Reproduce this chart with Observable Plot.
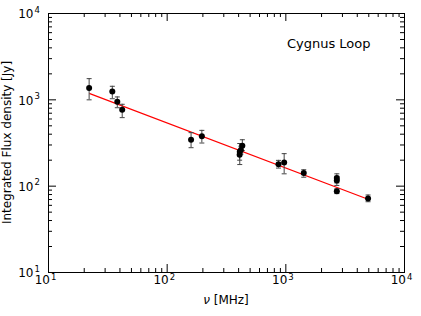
<!DOCTYPE html>
<html>
<head>
<meta charset="utf-8">
<script src="https://cdn.jsdelivr.net/npm/d3@7"></script>
<script src="https://cdn.jsdelivr.net/npm/@observablehq/plot@0.6"></script>
<style>
  html, body { margin: 0; padding: 0; background: #fff; }
  svg { display: block; }
</style>
</head>
<body>
<div id="chart"></div>
<script>
// Measurements: frequency (MHz), flux density (Jy), error low/high
const nu   = [22, 34.5, 38, 41.8, 159, 196, 408, 409, 418, 430, 867, 968, 1416, 2690, 2690, 2690, 4930];
const flux = [1370, 1245, 952, 769, 345, 378, 231, 251, 262, 294, 180, 188, 142, 124, 116, 87.5, 72];
const errLo = [1000, 1030, 810, 622, 279, 316, 200, 178, 235, 258, 162, 139, 127, 109, 102, 82, 66];
const errHi = [1760, 1435, 1080, 888, 417, 443, 262, 312, 290, 345, 199, 238, 155, 139, 130, 93, 79];

// Power-law fit line
const fitNu = [22.3, 4930];
const fitFlux = [1180, 70.6];

// Ticks
const majorTicks = [10, 100, 1000, 10000];
const majorExp = ["1", "2", "3", "4"];
const minorTicks = [];
[10, 100, 1000].forEach(b => { for (let m = 2; m <= 9; m++) minorTicks.push(b * m); });

const data = nu.map((v, i) => ({nu: v, flux: flux[i], lo: errLo[i], hi: errHi[i]}));
const fit = fitNu.map((v, i) => ({nu: v, flux: fitFlux[i]}));
const majors = majorTicks.map((v, i) => ({v, e: majorExp[i]}));

const W = 421, H = 316, mL = 48, mR = 17, mT = 13, mB = 44;
const pw = W - mL - mR, ph = H - mT - mB;
const majLen = 8, minLen = 4;
const font = "DejaVu Sans, sans-serif";

const capSymbol = {
  draw(context, size) {
    const w = Math.sqrt(size / Math.PI);
    context.moveTo(-w, 0);
    context.lineTo(w, 0);
  }
};

const chart = Plot.plot({
  width: W, height: H,
  marginLeft: mL, marginRight: mR, marginTop: mT, marginBottom: mB,
  style: {fontFamily: font, background: "#fff"},
  x: {type: "log", domain: [10, 10000], axis: null},
  y: {type: "log", domain: [10, 10000], axis: null},
  marks: [
    // inward ticks, all four sides
    Plot.ruleX(majorTicks, {x: d => d, insetTop: ph - majLen, stroke: "#000"}),
    Plot.ruleX(majorTicks, {x: d => d, insetBottom: ph - majLen, stroke: "#000"}),
    Plot.ruleX(minorTicks, {x: d => d, insetTop: ph - minLen, stroke: "#000"}),
    Plot.ruleX(minorTicks, {x: d => d, insetBottom: ph - minLen, stroke: "#000"}),
    Plot.ruleY(majorTicks, {y: d => d, insetRight: pw - majLen, stroke: "#000"}),
    Plot.ruleY(majorTicks, {y: d => d, insetLeft: pw - majLen, stroke: "#000"}),
    Plot.ruleY(minorTicks, {y: d => d, insetRight: pw - minLen, stroke: "#000"}),
    Plot.ruleY(minorTicks, {y: d => d, insetLeft: pw - minLen, stroke: "#000"}),
    // x tick labels
    Plot.text(majors, {x: "v", frameAnchor: "bottom", text: () => "10", textAnchor: "end", dx: 1.5, dy: 11.7, fontSize: 12, fill: "#000"}),
    Plot.text(majors, {x: "v", frameAnchor: "bottom", text: "e", textAnchor: "start", dx: 2.5, dy: 7.3, fontSize: 8.5, fill: "#000"}),
    // y tick labels
    Plot.text(majors, {y: "v", frameAnchor: "left", text: () => "10", textAnchor: "end", dx: -15, dy: 1, fontSize: 12, fill: "#000"}),
    Plot.text(majors, {y: "v", frameAnchor: "left", text: "e", textAnchor: "start", dx: -14, dy: -3.7, fontSize: 8.5, fill: "#000"}),
    // fit line
    Plot.line(fit, {x: "nu", y: "flux", stroke: "#ff0000", strokeWidth: 1.2}),
    // error bars
    Plot.ruleX(data, {x: "nu", y1: "lo", y2: "hi", stroke: "#444", strokeWidth: 1}),
    Plot.dot(data, {x: "nu", y: "lo", symbol: capSymbol, r: 2.5, stroke: "#444", fill: "none", strokeWidth: 1}),
    Plot.dot(data, {x: "nu", y: "hi", symbol: capSymbol, r: 2.5, stroke: "#444", fill: "none", strokeWidth: 1}),
    // points
    Plot.dot(data, {x: "nu", y: "flux", r: 3, fill: "#000", stroke: "none"}),
    // label
    Plot.text(["Cygnus Loop"], {frameAnchor: "top-right", text: d => d, textAnchor: "end", dx: -34, dy: 24.8, fontSize: 13, fill: "#000"}),
    Plot.frame({stroke: "#000"})
  ]
});

const svg = d3.select(chart);
// axis titles
svg.append("text")
  .attr("transform", `translate(11,${mT + ph / 2}) rotate(-90)`)
  .attr("text-anchor", "middle")
  .attr("font-family", font)
  .attr("font-size", 12)
  .attr("fill", "#000")
  .text("Integrated Flux density [Jy]");
const xl = svg.append("text")
  .attr("x", mL + pw / 2)
  .attr("y", 304)
  .attr("text-anchor", "middle")
  .attr("font-family", font)
  .attr("font-size", 12)
  .attr("fill", "#000");
xl.append("tspan").attr("font-style", "italic").text("ν");
xl.append("tspan").text(" [MHz]");

document.getElementById("chart").appendChild(chart);
</script>
</body>
</html>
